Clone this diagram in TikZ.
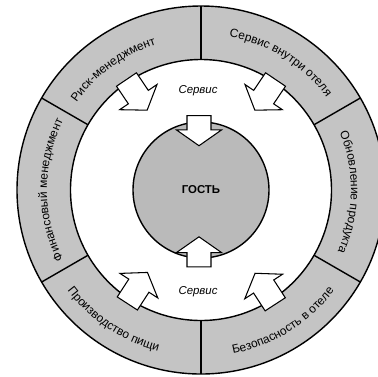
\documentclass[tikz,border=0pt]{standalone}
\usepackage{fontspec}
\setmainfont{Liberation Sans}
\definecolor{ringgray}{RGB}{196,196,196}
\definecolor{guestgray}{RGB}{186,186,186}
\usetikzlibrary{shapes.arrows,decorations.text}

\newcommand{\ringfont}{\fontsize{6.8}{8}\selectfont}

\begin{document}
\begin{tikzpicture}[
  ringline/.style={draw=black, line width=0.8pt},
  blockarrow/.style={
    single arrow, draw=black, fill=white, line width=0.6pt,
    inner xsep=0pt, inner ysep=0.23cm, single arrow head extend=0.21cm,
    single arrow tip angle=110
  },
  service/.style={font=\fontsize{6.5}{8}\selectfont\itshape, text=black},
  ringlabel/.style={
    decorate,
    decoration={text along path, text align=center, text={|\ringfont|#1}}
  }
]
\useasboundingbox (-4.02,-3.72) rectangle (3.54,3.80);
\clip (-4.02,-3.72) rectangle (3.54,3.80);

% Outer ring
\fill[ringgray, even odd rule] (0,0) circle (3.68) (0,0) circle (2.61);
\draw[ringline] (0,0) circle (3.68);
\draw[ringline] (0,0) circle (2.61);
\foreach \a in {30,90,...,330}
  \draw[ringline] (\a:2.61) -- (\a:3.68);

% Guest in the middle
\node[circle, draw=black, line width=0.8pt, fill=guestgray,
      minimum size=2.72cm, font=\fontsize{6.5}{8}\selectfont\bfseries]
      (guest) at (0,0) {ГОСТЬ};

% Arrows towards the guest
\node[blockarrow, minimum height=0.6cm, rotate=-90] (atop) at (-0.04,1.27) {};
\node[blockarrow, minimum height=0.6cm, rotate=90] (abottom) at (-0.04,-1.32) {};
\node[blockarrow, minimum height=0.74cm, rotate=304] (aul) at (124:2.38) {};
\node[blockarrow, minimum height=0.74cm, rotate=236] (aur) at (56:2.38) {};
\node[blockarrow, minimum height=0.74cm, rotate=57] (all) at (237:2.42) {};
\node[blockarrow, minimum height=0.74cm, rotate=123] (alr) at (303:2.44) {};

\node[service] (stop) at (-0.06,1.98) {Сервис};
\node[service] (sbottom) at (-0.06,-2.04) {Сервис};

% Ring labels
\path[ringlabel={Обновление продукта}] (39:3.0) arc[start angle=39, end angle=-41, radius=3.0];
\path[ringlabel={Сервис внутри отеля}] (98:3.12) arc[start angle=98, end angle=18, radius=3.12];
\path[ringlabel={Риск-менеджмент}] (166:3.04) arc[start angle=166, end angle=86, radius=3.04];
\path[ringlabel={Финансовый менеджмент}] (220:3.08) arc[start angle=220, end angle=140, radius=3.08];
\path[ringlabel={Производство пищи}] (196:3.34) arc[start angle=196, end angle=276, radius=3.34];
\path[ringlabel={Безопасность в отеле}] (262:3.34) arc[start angle=262, end angle=342, radius=3.34];
\end{tikzpicture}
\end{document}
